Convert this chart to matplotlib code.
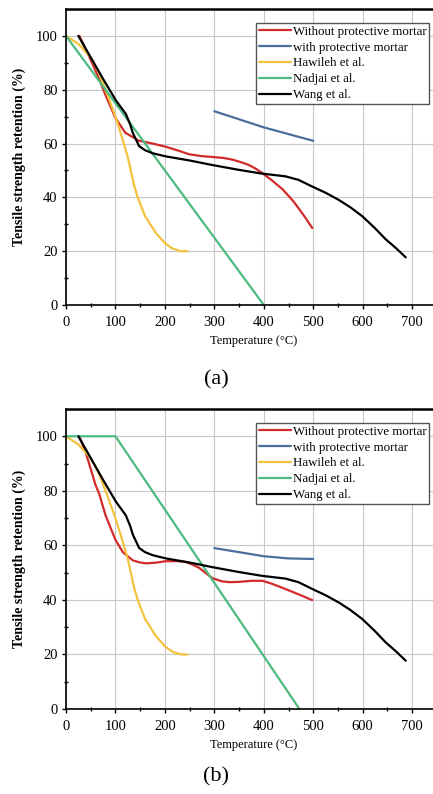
import matplotlib
matplotlib.use("Agg")
import matplotlib.pyplot as plt

plt.rcParams["font.family"] = ["Liberation Serif", "DejaVu Serif"]

# panel (a)
a_red_x = [27, 40, 55, 67, 81, 100, 120, 148, 175, 202, 230, 249, 275, 296, 320, 337, 355, 370, 385, 397, 415, 438, 460, 480, 498]
a_red_y = [100, 95, 89, 84, 77.5, 69.5, 64, 61, 60, 58.8, 57.2, 56, 55.3, 55, 54.6, 54, 53, 52, 50.5, 49, 46.5, 43, 38.5, 33.5, 28.6]
a_blue_x = [300, 350, 400, 450, 500]
a_blue_y = [72, 69, 66, 63.5, 61]
a_green_x = [0, 400]
a_green_y = [100, 0]

# panel (b)
b_red_x = [27, 40, 50, 60, 67, 80, 100, 115, 135, 150, 162, 180, 202, 225, 242, 255, 269, 285, 296, 315, 330, 350, 375, 397, 415, 438, 460, 480, 498]
b_red_y = [100, 94, 88, 82, 79, 71, 62, 57.5, 54.5, 53.7, 53.4, 53.6, 54.2, 54.2, 53.9, 53, 51.8, 49.5, 48, 46.8, 46.5, 46.6, 47, 47, 46, 44.4, 42.8, 41.3, 39.9]
b_blue_x = [300, 350, 400, 450, 500]
b_blue_y = [59, 57.5, 56, 55.2, 55]
b_green_x = [0, 100, 472]
b_green_y = [100, 100, 0]

# same in both panels
haw_x = [0, 25, 50, 65, 80, 100, 112, 125, 137, 145, 160, 182, 200, 215, 232, 246]
haw_y = [100, 97, 92, 87, 80, 70, 63, 55, 45, 40, 33, 26.7, 23, 21, 20, 20]
wang_x = [25, 50, 75, 101, 121, 130, 135, 148, 160, 175, 202, 250, 296, 350, 397, 444, 470, 498, 525, 552, 575, 599, 625, 646, 668, 687]
wang_y = [100, 92, 84, 76, 71, 67, 64, 59, 57.5, 56.4, 55.2, 53.7, 52, 50.2, 48.8, 47.8, 46.5, 44, 41.7, 39, 36.3, 33, 28.5, 24.5, 21, 17.7]

labels = ["Without protective mortar", "with protective mortar", "Hawileh et al.", "Nadjai et al.", "Wang et al."]
colors = ["#d32a2a", "#4a6f9c", "#f3c33e", "#4dba80", "#000000"]

fig = plt.figure(figsize=(4.33, 7.94), dpi=100)

panels = [
    ([0.1524, 0.6159, 0.868, 0.3728], a_red_x, a_red_y, a_blue_x, a_blue_y, a_green_x, a_green_y, "(a)", 380),
    ([0.1524, 0.1071, 0.868, 0.3778], b_red_x, b_red_y, b_blue_x, b_blue_y, b_green_x, b_green_y, "(b)", 777),
]

for rect, rx, ry, bx, by, gx, gy, tag, ty in panels:
    ax = fig.add_axes(rect)
    series = [(rx, ry), (bx, by), (haw_x, haw_y), (gx, gy), (wang_x, wang_y)]
    for (xs, ys), lab, c in zip(series, labels, colors):
        ax.plot(xs, ys, color=c, lw=1.6, label=lab, solid_capstyle="round")
    ax.set_xlim(0, 760)
    ax.set_ylim(0, 110)
    ax.set_xticks(range(0, 701, 100))
    ax.set_xticks(range(50, 751, 100), minor=True)
    ax.set_yticks(range(0, 101, 20))
    ax.set_yticks(range(10, 110, 20), minor=True)
    ax.grid(True, color="#c8c8c8", lw=0.8)
    ax.set_axisbelow(True)
    ax.tick_params(which="major", direction="out", length=3, width=1, labelsize=10.5)
    ax.tick_params(axis="x", which="major", pad=5)
    ax.tick_params(axis="y", which="major", pad=3)
    ax.tick_params(which="minor", direction="inout", length=3, width=1)
    for s in ["left", "bottom"]:
        ax.spines[s].set_linewidth(1.2)
    ax.spines["top"].set_linewidth(1.8)
    ax.spines["right"].set_visible(False)
    ax.set_xlabel("Temperature (°C)", fontsize=9, labelpad=4)
    ax.set_ylabel("Tensile strength retention (%)", fontsize=10, fontweight="bold", labelpad=7)
    ax.legend(loc="upper left", bbox_to_anchor=(256 / 433, rect[1] + rect[3] - 14 / 794),
              bbox_transform=fig.transFigure, fontsize=9.3, frameon=True, fancybox=False,
              edgecolor="#555555", framealpha=1, handlelength=2.5, handletextpad=0.15,
              labelspacing=0.3, borderpad=0.2, borderaxespad=0)
    fig.text(0.5, 1 - ty / 794, tag, ha="center", va="center", fontsize=16)

fig.savefig("out.png", dpi=100)
